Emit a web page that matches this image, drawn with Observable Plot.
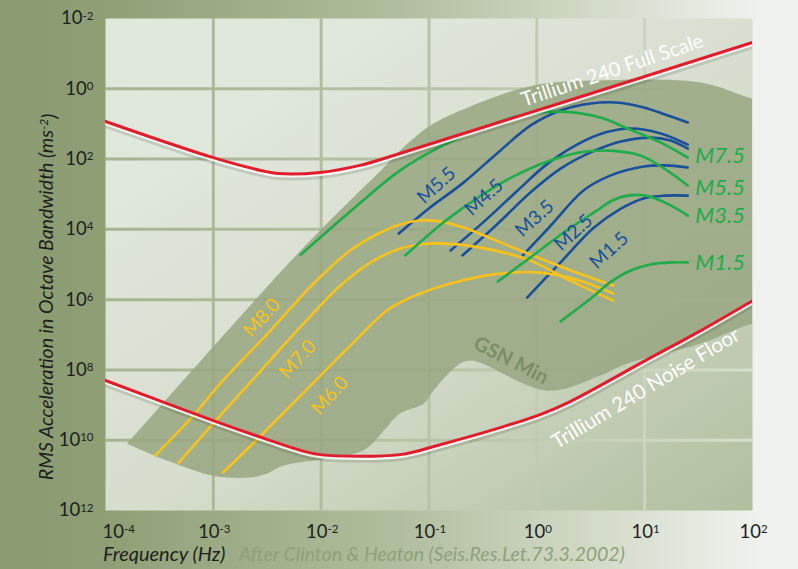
<!DOCTYPE html>
<html><head><meta charset="utf-8">
<script src="https://cdn.jsdelivr.net/npm/d3@7"></script>
<script src="https://cdn.jsdelivr.net/npm/@observablehq/plot@0.6"></script>
<style>
html,body{margin:0;padding:0;background:#eef1ec;}
#chart svg{display:block;}
</style></head><body><div id="chart"></div>
<script>
// All values in log10 units: [log10 frequency (Hz), exponent of the axis label]
const xTicks = [-4, -3, -2, -1, 0, 1, 2];
const yTicks = [-2, 0, 2, 4, 6, 8, 10, 12];
const xGrid = [-3, -2, -1, 0, 1];
const yGrid = [0, 2, 4, 6, 8, 10];

const fullScale = [[-4.00,0.93],[-3.00,1.96],[-2.55,2.33],[-2.40,2.41],[-2.01,2.38],[-1.64,2.18],[-1.27,1.84],[2.00,-1.32]];
const noiseFloor = [[-4.00,8.30],[-3.00,9.44],[-2.47,10.01],[-2.19,10.29],[-2.01,10.41],[-1.27,10.41],[-0.89,10.12],[-0.34,9.64],[0.03,9.27],[0.31,8.90],[1.01,7.73],[1.52,6.88],[2.00,6.03]];
const gsnEnvelope = [[-3.80,10.10],[-3.28,8.30],[-2.19,4.60],[-1.42,2.24],[-1.27,1.76],[-0.99,1.05],[-0.64,0.53],[-0.03,-0.09],[0.59,-0.24],[1.52,-0.18],[2.00,0.28],[2.20,0.40],[2.20,6.60],[2.00,6.68],[1.52,7.25],[0.84,7.82],[0.59,8.16],[0.10,8.59],[-0.60,7.73],[-0.71,7.82],[-0.96,8.59],[-1.05,8.96],[-1.27,9.24],[-1.42,9.73],[-1.61,10.29],[-2.35,10.72],[-2.50,10.95],[-2.66,11.06],[-3.00,11.01],[-3.43,10.58],[-3.80,10.10]];

const green75 = [[-2.19,4.72],[-1.73,3.49],[-1.27,2.33],[-0.89,1.64],[-0.52,1.13],[-0.15,0.76],[0.22,0.65],[0.59,0.82],[0.84,1.13],[1.15,1.53],[1.40,1.96]];
const green55 = [[-1.22,4.74],[-0.89,3.86],[-0.68,3.38],[-0.43,2.87],[-0.22,2.50],[0.10,2.07],[0.40,1.81],[0.68,1.76],[0.96,1.90],[1.15,2.21],[1.40,2.75]];
const green35 = [[-0.36,5.48],[-0.06,4.80],[0.25,4.09],[0.56,3.46],[0.70,3.18],[0.84,3.04],[1.01,3.04],[1.19,3.24],[1.40,3.61]];
const green15 = [[0.22,6.62],[0.50,5.97],[0.68,5.51],[0.87,5.17],[1.05,5.00],[1.24,4.94],[1.40,4.94]];

const blue55 = [[-1.28,4.12],[-0.99,3.38],[-0.68,2.67],[-0.34,1.76],[-0.06,1.05],[0.22,0.62],[0.50,0.42],[0.73,0.39],[0.99,0.53],[1.19,0.73],[1.40,0.96]];
const blue45 = [[-0.80,4.60],[-0.49,3.78],[-0.18,2.90],[0.08,2.18],[0.36,1.61],[0.64,1.24],[0.87,1.13],[1.15,1.27],[1.40,1.59]];
const blue35 = [[-0.69,4.74],[-0.37,3.86],[-0.06,2.95],[0.22,2.27],[0.50,1.81],[0.78,1.50],[1.05,1.39],[1.24,1.47],[1.40,1.70]];
const blue25 = [[-0.13,4.74],[0.13,3.89],[0.43,2.90],[0.68,2.47],[0.99,2.21],[1.19,2.18],[1.40,2.24]];
const blue15 = [[-0.09,5.94],[0.22,4.94],[0.53,3.95],[0.78,3.41],[0.99,3.12],[1.19,3.04],[1.40,3.04]];

const yellow80 = [[-3.54,10.44],[-3.21,9.38],[-2.91,8.30],[-2.47,6.88],[-2.07,5.54],[-1.73,4.60],[-1.45,4.09],[-1.27,3.86],[-1.08,3.75],[-0.89,3.78],[-0.68,3.95],[-0.22,4.52],[0.25,5.09],[0.71,5.60]];
const yellow70 = [[-3.32,10.64],[-2.96,9.38],[-2.64,8.30],[-2.19,6.77],[-1.82,5.60],[-1.54,4.94],[-1.27,4.55],[-1.08,4.43],[-0.89,4.40],[-0.52,4.52],[-0.06,4.89],[0.31,5.46],[0.71,6.03]];
const yellow60 = [[-2.91,10.92],[-2.66,10.18],[-2.19,8.73],[-1.73,7.31],[-1.39,6.31],[-1.17,5.94],[-0.80,5.54],[-0.34,5.26],[0.03,5.23],[0.40,5.46],[0.71,5.83]];

const greenLabels = ["M7.5","M5.5","M3.5","M1.5"];
const greenLabelF = [1.47,1.47,1.47,1.47];
const greenLabelA = [1.90,2.81,3.61,4.97];
const blueLabels = ["M5.5","M4.5","M3.5","M2.5","M1.5"];
const blueLabelF = [-0.93,-0.49,-0.02,0.34,0.67];
const blueLabelA = [2.75,3.09,3.69,4.09,4.60];
const yellowLabels = ["M8.0","M7.0","M6.0"];
const yellowLabelF = [-2.55,-2.22,-1.92];
const yellowLabelA = [6.51,7.70,8.73];

const notes = ["Trillium 240 Full Scale","Trillium 240 Noise Floor","GSN Min"];
const noteF = [0.70, 1.01, -0.24];
const noteA = [-0.52, 8.53, 7.73];

// ---------- build tables ----------
const toRows = (name, arr) => arr.map(([f, a]) => ({series: name, logF: f, logA: a}));
const greens = [["M7.5",green75],["M5.5",green55],["M3.5",green35],["M1.5",green15]].flatMap(([n,a]) => toRows(n,a));
const blues = [["M5.5",blue55],["M4.5",blue45],["M3.5",blue35],["M2.5",blue25],["M1.5",blue15]].flatMap(([n,a]) => toRows(n,a));
const yellows = [["M8.0",yellow80],["M7.0",yellow70],["M6.0",yellow60]].flatMap(([n,a]) => toRows(n,a));
const reds = [...toRows("full", fullScale), ...toRows("noise", noiseFloor)];
const envelope = toRows("gsn", gsnEnvelope);
const lab = (t, f, a) => t.map((s, i) => ({text: s, logF: f[i], logA: a[i]}));

const FONT = "Lato, 'Open Sans', sans-serif";
const RED = "#e11d2d", GREEN = "#1fac4b", BLUE = "#1a4f9c", YELLOW = "#f7c21b";
const lineOpts = (stroke) => ({x: "logF", y: "logA", z: "series", stroke, strokeWidth: 2.6, curve: "catmull-rom", clip: true});

const plot = Plot.plot({
  width: 798, height: 569,
  marginLeft: 105, marginRight: 46, marginTop: 18, marginBottom: 59,
  x: {type: "linear", domain: [-4, 2], axis: null},
  y: {type: "linear", domain: [12, -2], axis: null},
  style: {
    background: "linear-gradient(to right, #8a9b71 0px, #8e9f75 105px, #b1be9d 400px, #e3e8dd 690px, #eff2ee 760px)",
    fontFamily: FONT, overflow: "visible"
  },
  marks: [
    Plot.frame({fill: "url(#pbg)", stroke: null}),
    Plot.ruleX(xGrid, {x: d => d, stroke: "url(#gridH)", strokeWidth: 3}),
    Plot.ruleY(yGrid, {y: d => d, stroke: "url(#gridH)", strokeWidth: 3}),
    Plot.line(envelope, {x: "logF", y: "logA", fill: "#97a781", fillOpacity: 0.86, stroke: null, curve: "catmull-rom", clip: true}),
    Plot.text(lab(notes.slice(2), noteF.slice(2), noteA.slice(2)), {x: "logF", y: "logA", text: "text", rotate: 27, fontSize: 20, fontWeight: "bold", fill: "#7b8e66"}),
    Plot.line(blues, lineOpts(BLUE)),
    Plot.line(yellows, lineOpts(YELLOW)),
    Plot.line(greens, lineOpts(GREEN)),
    // red instrument limits: shadow, highlight, line
    Plot.line(reds, {x: "logF", y: "logA", z: "series", stroke: "#2c3a1c", strokeOpacity: 0.16, strokeWidth: 7, dy: 3, curve: "catmull-rom", clip: true}),
    Plot.line(reds, {x: "logF", y: "logA", z: "series", stroke: "#ffffff", strokeOpacity: 0.85, strokeWidth: 4.6, dy: 1.3, curve: "catmull-rom", clip: true}),
    Plot.line(reds, {x: "logF", y: "logA", z: "series", stroke: RED, strokeWidth: 3, curve: "catmull-rom", clip: true}),
    Plot.text(lab(yellowLabels, yellowLabelF, yellowLabelA), {x: "logF", y: "logA", text: "text", rotate: -48, fontSize: 19, fill: YELLOW}),
    Plot.text(lab(blueLabels, blueLabelF, blueLabelA), {x: "logF", y: "logA", text: "text", rotate: -42, fontSize: 19, fill: BLUE}),
    Plot.text(lab(greenLabels, greenLabelF, greenLabelA), {x: "logF", y: "logA", text: "text", textAnchor: "start", fontSize: 22, fontStyle: "italic", fill: GREEN}),
    Plot.text(lab(notes.slice(0,1), noteF.slice(0,1), noteA.slice(0,1)), {x: "logF", y: "logA", text: "text", rotate: -18.5, fontSize: 20, fill: "#ffffff"}),
    Plot.text(lab(notes.slice(1,2), noteF.slice(1,2), noteA.slice(1,2)), {x: "logF", y: "logA", text: "text", rotate: -31, fontSize: 20.5, fill: "#ffffff"}),
    // tick labels
    Plot.text(yTicks, {y: d => d, text: d => String(d), frameAnchor: "left", textAnchor: "end", dx: -12, fontSize: 18.5, fill: "#1e1e1e", ariaDescription: "tick-label"}),
    Plot.text(xTicks.slice(0, 1), {x: d => d, text: d => String(d), frameAnchor: "bottom", textAnchor: "start", dx: -3, dy: 27, fontSize: 18.5, fill: "#1e1e1e", ariaDescription: "tick-label"}),
    Plot.text(xTicks.slice(1), {x: d => d, text: d => String(d), frameAnchor: "bottom", dx: 1, dy: 27, fontSize: 18.5, fill: "#1e1e1e", ariaDescription: "tick-label"})
  ]
});

const svg = d3.select(plot);
const defs = svg.insert("defs", ":first-child");
const pbg = defs.append("linearGradient").attr("id", "pbg").attr("x1", 0.25).attr("y1", 0.15).attr("x2", 1).attr("y2", 1);
pbg.append("stop").attr("offset", 0).attr("stop-color", "#e0e7db");
pbg.append("stop").attr("offset", 0.45).attr("stop-color", "#d6ddcd");
pbg.append("stop").attr("offset", 0.8).attr("stop-color", "#bdc9ae");
pbg.append("stop").attr("offset", 1).attr("stop-color", "#b1be9f");
const gh = defs.append("linearGradient").attr("id", "gridH").attr("gradientUnits", "userSpaceOnUse")
  .attr("x1", 105).attr("y1", 0).attr("x2", 752).attr("y2", 0);
gh.append("stop").attr("offset", 0).attr("stop-color", "#a6b391");
gh.append("stop").attr("offset", 0.55).attr("stop-color", "#b9c4a8");
gh.append("stop").attr("offset", 1).attr("stop-color", "#d7decd");

// tick labels as 10 with superscript exponent
svg.selectAll('g[aria-description="tick-label"] text').each(function () {
  const t = d3.select(this);
  const e = t.text();
  t.text("10");
  t.append("tspan").attr("dy", "-0.42em").attr("font-size", 11.5).text(e);
});

// axis titles and source
const yt = svg.append("text").attr("transform", "translate(53,297) rotate(-90)")
  .attr("text-anchor", "middle").attr("font-size", 19.5).attr("font-style", "italic").attr("fill", "#1e1e1e");
yt.append("tspan").text("RMS Acceleration in Octave Bandwidth (ms");
yt.append("tspan").attr("dy", "-0.45em").attr("font-size", 12).text("-2");
yt.append("tspan").attr("dy", "0.45em").text(")");
svg.append("text").attr("x", 103).attr("y", 561).attr("text-anchor", "start").attr("font-size", 20).attr("font-style", "italic").attr("fill", "#1e1e1e").text("Frequency (Hz)");
svg.append("text").attr("x", 239).attr("y", 561).attr("text-anchor", "start").attr("font-size", 19.5).attr("font-style", "italic").attr("fill", "#8ea17a").text("After Clinton & Heaton (Seis.Res.Let.73.3.2002)");

document.getElementById("chart").append(plot);
</script></body></html>
